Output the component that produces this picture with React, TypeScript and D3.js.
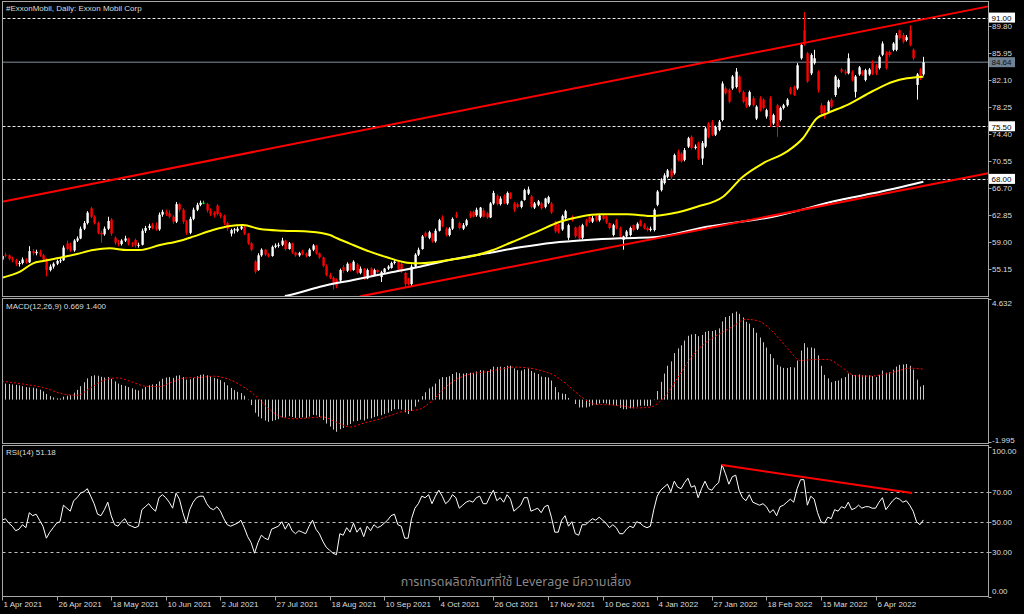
import React from 'react';
import * as d3 from 'd3';

const titleText = '#ExxonMobil, Daily:  Exxon Mobil Corp';
const macdTitle = 'MACD(12,26,9) 0.669 1.400';
const rsiTitle = 'RSI(14) 51.18';
const watermark = 'การเทรดผลิตภัณฑ์ที่ใช้ Leverage มีความเสี่ยง';

const xLabels = ['1 Apr 2021', '26 Apr 2021', '18 May 2021', '10 Jun 2021', '2 Jul 2021', '27 Jul 2021', '18 Aug 2021', '10 Sep 2021', '4 Oct 2021', '26 Oct 2021', '17 Nov 2021', '10 Dec 2021', '4 Jan 2022', '27 Jan 2022', '18 Feb 2022', '15 Mar 2022', '6 Apr 2022'];
const xLabelBars = [0, 16, 32, 48, 64, 80, 96, 112, 128, 144, 160, 176, 192, 208, 224, 240, 256];

const priceTicks = [55.15, 59.0, 62.85, 66.7, 70.55, 74.4, 78.25, 82.1, 85.95, 89.8];
const levelLines = [91.0, 75.5, 68.0];
const lastPrice = 84.64;
const macdTicks = [4.632, -1.995];
const rsiTicks = [100, 70, 50, 30, 0];
const rsiLevels = [70, 50, 30];

const opens = [
  56.5, 57.2, 57.1, 56.6, 56.4, 55.9, 56.0, 56.5, 56.1, 57.7,
  57.4, 57.6, 57.1, 56.5, 55.0, 55.5, 55.9, 56.3, 56.4, 58.8,
  58.4, 57.8, 59.2, 59.5, 60.9, 61.7, 63.8, 62.6, 61.7, 60.3,
  60.1, 60.9, 62.2, 59.6, 58.9, 58.7, 59.2, 59.5, 58.8, 59.3,
  58.5, 58.6, 60.6, 61.0, 61.5, 61.4, 60.8, 62.9, 63.3, 63.1,
  62.6, 61.9, 64.4, 63.6, 61.9, 60.3, 62.3, 63.6, 64.3, 64.6,
  64.4, 63.5, 63.2, 64.2, 63.0, 62.7, 61.7, 60.2, 60.7, 60.6,
  60.9, 61.2, 60.2, 58.8, 56.2, 55.0, 57.1, 57.9, 57.2, 57.0,
  58.3, 58.5, 58.6, 59.2, 58.0, 58.8, 57.5, 57.1, 57.7, 57.3,
  57.0, 57.9, 58.5, 57.4, 56.8, 55.6, 54.3, 53.9, 53.6, 53.5,
  55.4, 54.9, 55.9, 55.0, 55.8, 54.6, 55.2, 53.8, 55.2, 54.3,
  55.0, 54.0, 54.7, 55.2, 55.3, 56.0, 56.2, 55.9, 54.6, 53.7,
  53.0, 55.5, 57.2, 58.0, 60.3, 59.6, 60.2, 59.1, 60.6, 62.5,
  60.9, 60.0, 60.9, 62.9, 61.7, 60.9, 61.4, 63.1, 63.3, 62.8,
  62.6, 63.5, 63.1, 62.5, 64.5, 65.6, 64.4, 65.6, 64.5, 66.0,
  64.5, 64.4, 64.0, 65.0, 65.9, 65.5, 63.9, 64.3, 64.5, 64.0,
  64.6, 64.5, 61.9, 61.5, 60.8, 62.4, 59.6, 62.6, 61.1, 61.2,
  59.6, 62.1, 62.6, 61.9, 62.8, 62.1, 62.8, 62.6, 61.7, 60.0,
  62.1, 61.0, 59.3, 59.8, 60.0, 61.4, 60.9, 62.0, 61.5, 61.0,
  60.7, 60.7, 64.3, 66.4, 67.4, 68.3, 69.2, 68.8, 71.9, 71.6,
  70.7, 72.6, 74.0, 72.4, 73.1, 70.9, 72.6, 75.9, 76.15, 74.3,
  75.0, 76.4, 80.9, 80.7, 80.9, 81.1, 82.6, 80.4, 79.5, 78.5,
  79.5, 76.6, 79.5, 79.3, 76.9, 79.5, 75.9, 78.5, 76.4, 78.1,
  78.5, 80.9, 81.1, 80.9, 85.2, 89.2, 85.9, 83.05, 84.5, 83.3,
  78.5, 78.3, 77.6, 79.25, 79.96, 81.1, 83.6, 83.3, 83.05, 83.3,
  80.4, 82.9, 83.3, 82.1, 82.9, 84.5, 84.2, 83.8, 85.7, 86.0,
  86.1, 86.4, 86.4, 89.2, 88.5, 87.8, 89.2, 86.4, 81.4, 83.6,
  82.9,
];

const highs = [
  57.3, 57.5, 57.2, 56.9, 56.6, 56.3, 56.8, 56.7, 58.4, 58.0,
  57.9, 57.9, 57.3, 56.7, 55.8, 56.1, 56.5, 56.7, 58.5, 59.2,
  58.9, 59.4, 59.8, 61.2, 62.0, 63.4, 64.0, 62.8, 61.9, 60.6,
  61.2, 62.6, 62.4, 59.8, 59.3, 59.4, 59.9, 59.6, 59.0, 59.5,
  58.9, 60.9, 61.3, 61.6, 61.7, 61.8, 63.2, 63.6, 63.6, 63.5,
  62.8, 64.7, 64.6, 63.8, 62.1, 62.6, 63.9, 64.6, 64.9, 64.9,
  64.6, 63.8, 63.4, 64.4, 63.2, 62.9, 61.9, 60.9, 61.0, 61.2,
  61.5, 61.4, 60.3, 59.0, 56.4, 57.4, 58.1, 58.0, 57.4, 58.5,
  58.8, 58.9, 59.6, 59.3, 59.0, 58.9, 57.6, 57.6, 57.9, 57.5,
  58.1, 58.7, 58.6, 57.5, 56.9, 55.8, 54.6, 54.1, 53.8, 55.2,
  55.7, 56.1, 56.0, 56.4, 56.0, 55.5, 55.3, 55.2, 55.4, 55.2,
  55.1, 54.9, 55.3, 55.7, 56.2, 56.5, 56.3, 56.1, 54.7, 53.9,
  55.8, 57.4, 58.2, 60.0, 60.5, 60.6, 60.3, 60.9, 62.3, 62.8,
  61.1, 61.1, 62.5, 63.3, 61.9, 61.7, 62.3, 63.4, 63.5, 63.9,
  64.0, 63.8, 63.3, 64.7, 66.3, 65.8, 65.5, 65.8, 66.2, 66.1,
  64.7, 64.6, 64.9, 66.6, 66.9, 65.7, 64.7, 65.0, 64.7, 65.3,
  65.6, 64.7, 62.0, 61.6, 62.9, 63.6, 61.6, 62.8, 61.2, 61.4,
  61.6, 62.3, 62.8, 62.7, 63.0, 63.0, 63.0, 62.8, 61.8, 61.6,
  62.3, 61.2, 59.9, 60.7, 61.2, 61.5, 61.8, 62.2, 61.7, 61.2,
  61.2, 63.8, 66.4, 68.1, 68.8, 69.4, 69.5, 71.6, 72.2, 71.8,
  72.4, 74.0, 74.2, 72.9, 73.3, 73.4, 75.4, 76.1, 76.4, 75.6,
  76.4, 81.9, 81.2, 80.9, 82.8, 83.8, 82.8, 80.6, 79.7, 80.6,
  79.8, 78.5, 79.8, 79.5, 78.0, 79.8, 77.3, 78.7, 78.3, 78.7,
  79.5, 81.1, 81.3, 84.5, 87.4, 91.8, 86.1, 85.9, 86.4, 83.5,
  78.8, 78.5, 79.2, 79.5, 82.8, 82.3, 83.8, 83.6, 85.9, 83.5,
  82.8, 84.1, 83.5, 83.7, 83.8, 84.9, 84.4, 85.6, 87.6, 86.2,
  86.3, 87.5, 88.8, 89.3, 88.8, 88.5, 89.9, 86.6, 83.1, 83.8,
  85.4,
];

const lows = [
  56.3, 56.8, 56.4, 56.1, 55.6, 55.5, 55.8, 55.9, 56.0, 57.1,
  57.1, 56.9, 56.2, 54.1, 54.8, 55.2, 55.7, 56.0, 56.3, 57.8,
  57.6, 57.6, 59.0, 59.4, 60.7, 61.5, 62.4, 61.5, 60.1, 58.9,
  59.9, 60.7, 59.9, 58.6, 58.4, 58.5, 59.0, 58.5, 58.3, 58.2,
  58.2, 58.5, 60.3, 60.7, 60.8, 60.6, 60.6, 62.6, 62.7, 62.4,
  61.6, 61.7, 63.3, 61.6, 60.0, 60.1, 62.1, 63.4, 64.1, 64.4,
  63.2, 62.7, 62.5, 62.8, 62.4, 61.4, 60.6, 59.8, 60.2, 60.4,
  60.7, 60.0, 58.6, 57.7, 54.5, 54.9, 56.9, 57.0, 56.8, 56.9,
  58.1, 58.2, 58.4, 57.8, 57.9, 57.3, 56.9, 56.9, 57.1, 56.8,
  56.9, 57.7, 57.2, 56.6, 55.4, 54.1, 53.7, 52.2, 52.4, 53.3,
  54.6, 54.7, 54.8, 54.9, 54.4, 54.4, 53.6, 53.7, 54.1, 54.2,
  54.5, 53.3, 54.5, 55.0, 55.2, 55.8, 54.8, 54.6, 52.5, 52.8,
  52.7, 55.3, 57.0, 57.9, 59.6, 59.4, 58.9, 58.9, 60.5, 61.1,
  59.8, 59.8, 60.7, 62.4, 60.8, 60.7, 61.2, 62.4, 62.5, 62.6,
  62.4, 62.5, 62.3, 62.4, 64.3, 64.2, 64.2, 64.4, 64.3, 65.1,
  63.3, 63.8, 63.8, 64.9, 65.7, 63.8, 63.7, 64.1, 63.6, 63.8,
  64.4, 63.0, 60.3, 60.2, 60.6, 62.2, 59.3, 61.9, 59.6, 59.3,
  59.4, 61.2, 61.7, 61.7, 61.9, 61.9, 62.1, 61.6, 60.8, 59.8,
  60.8, 59.6, 57.9, 59.6, 59.8, 60.5, 60.7, 61.2, 60.8, 60.5,
  60.5, 60.5, 64.1, 66.2, 67.2, 68.1, 68.0, 68.6, 70.5, 70.3,
  70.5, 72.4, 72.2, 72.2, 70.7, 70.0, 72.4, 73.8, 74.1, 74.1,
  74.8, 76.2, 80.0, 78.8, 80.7, 80.9, 80.2, 78.8, 78.1, 78.3,
  78.3, 76.4, 77.6, 77.9, 76.6, 75.4, 75.7, 74.0, 76.2, 77.9,
  78.3, 80.0, 79.8, 80.7, 85.0, 87.0, 81.7, 82.8, 84.3, 80.3,
  77.1, 76.6, 77.4, 78.1, 79.7, 80.9, 83.1, 82.8, 82.9, 81.9,
  79.6, 82.7, 82.7, 81.9, 82.7, 82.8, 82.8, 83.6, 85.5, 83.6,
  85.4, 86.2, 86.2, 87.8, 87.3, 87.6, 86.9, 84.9, 79.3, 82.1,
  82.7,
];

const closes = [
  57.0, 57.1, 56.6, 56.4, 55.9, 56.0, 56.5, 56.1, 57.7, 57.4,
  57.6, 57.1, 56.5, 55.0, 55.5, 55.9, 56.3, 56.4, 58.2, 58.0,
  57.8, 59.2, 59.5, 60.9, 61.7, 63.2, 62.6, 61.7, 60.3, 60.1,
  60.9, 62.0, 60.2, 58.9, 58.7, 59.2, 59.5, 58.8, 58.7, 58.5,
  58.6, 60.6, 61.0, 61.3, 61.0, 60.8, 62.9, 63.3, 63.0, 62.6,
  61.9, 64.4, 63.6, 61.9, 60.3, 62.3, 63.6, 64.3, 64.6, 64.6,
  63.5, 63.0, 62.8, 63.0, 62.7, 61.7, 60.9, 60.7, 60.8, 60.9,
  61.2, 60.2, 58.8, 57.9, 54.8, 57.1, 57.9, 57.2, 57.0, 58.3,
  58.5, 58.6, 59.2, 58.0, 58.8, 57.5, 57.1, 57.4, 57.3, 57.0,
  57.9, 58.5, 57.4, 56.8, 55.6, 54.3, 53.9, 53.0, 52.7, 55.0,
  54.9, 55.9, 55.0, 56.2, 54.6, 55.2, 53.8, 55.0, 54.3, 55.0,
  54.7, 54.7, 55.2, 55.5, 56.0, 56.2, 55.0, 54.8, 53.0, 53.0,
  55.5, 57.2, 57.9, 59.8, 59.8, 60.4, 59.1, 60.6, 62.1, 61.3,
  60.0, 60.9, 62.3, 62.6, 61.0, 61.4, 62.1, 62.6, 62.6, 63.6,
  63.9, 62.6, 62.5, 64.5, 66.0, 64.4, 65.2, 64.5, 66.0, 65.3,
  63.6, 64.0, 64.8, 66.4, 66.5, 64.0, 64.5, 64.8, 63.8, 65.2,
  65.4, 63.2, 60.5, 60.4, 62.7, 63.4, 61.4, 62.1, 59.8, 59.5,
  61.4, 61.4, 61.9, 62.4, 62.1, 62.8, 62.3, 61.8, 61.0, 61.4,
  61.0, 59.8, 59.8, 60.5, 61.0, 60.7, 61.6, 61.3, 61.0, 60.7,
  60.9, 63.6, 66.2, 67.8, 68.5, 69.2, 68.3, 71.4, 70.7, 70.5,
  72.1, 73.8, 72.4, 72.6, 70.9, 73.1, 75.2, 74.0, 74.3, 75.4,
  76.15, 81.6, 80.2, 79.0, 82.6, 83.3, 80.4, 79.0, 78.3, 80.4,
  78.5, 78.3, 77.8, 78.1, 77.8, 76.4, 77.1, 75.4, 78.1, 78.5,
  79.3, 80.2, 79.96, 84.2, 87.1, 87.3, 81.9, 85.66, 85.2, 80.7,
  77.35, 76.9, 79.0, 78.3, 82.6, 82.1, 83.3, 83.05, 85.2, 82.1,
  82.6, 83.9, 82.9, 83.5, 83.6, 83.0, 83.05, 85.4, 87.3, 83.8,
  85.66, 87.3, 88.5, 88.05, 87.56, 88.2, 87.1, 85.2, 82.9, 82.3,
  84.64,
];

// moving averages: [bar, price]
const maYellow = [
  [0, 53.91], [5.3, 54.77], [9.1, 55.96], [12, 56.29], [17, 56.76], [22, 57.29], [26.7, 57.86],
  [31.6, 58.1], [36.6, 57.86], [40.4, 57.86], [46.3, 58.57], [52.2, 59.19], [56, 59.76],
  [61.8, 60.71], [66.8, 61.28], [70.6, 61.42], [75.6, 60.85], [82.3, 60.61], [90.3, 60.47],
  [96.1, 60.0], [98.2, 59.53], [102.9, 58.57], [107.8, 57.62], [112.8, 56.82], [118.7, 56.05],
  [122.5, 55.96], [132.2, 56.53], [138, 57.0], [143.9, 57.86], [149.7, 59.04], [156.8, 60.47],
  [163.5, 61.89], [169.4, 62.61], [175.2, 62.95], [183.2, 62.95], [190.8, 62.71], [196.6, 63.09],
  [203.7, 64.03], [211.3, 65.46], [217.1, 68.31], [223, 70.22], [230, 71.88], [234.7, 73.79],
  [238.8, 76.64], [241.8, 77.35], [247.6, 78.53], [255.2, 80.53], [261.1, 81.86], [265.2, 82.34],
  [270, 82.57],
];
const maWhite = [
  [82.9, 51.3], [84.4, 51.44], [93.2, 52.63], [102.9, 53.58], [112.8, 54.54], [122.5, 55.48],
  [132.2, 56.53], [142.1, 57.39], [151.8, 58.24], [161.5, 58.9], [171.4, 59.29], [181.1, 59.53],
  [190.8, 59.67], [206.6, 61.18], [225.9, 62.61], [245.5, 64.99], [255.2, 65.94], [270, 67.6],
];

// trend lines [bar, price]
const upperChannel = [[0, 64.75], [289, 92.6]];
const lowerChannel = [[105, 51.25], [289, 68.8]];
const rsiTrend = [[211, 87.8], [266.7, 69.1]];

const macdMain = [
  0.75, 0.74, 0.72, 0.70, 0.68, 0.66, 0.62, 0.58, 0.56, 0.55,
  0.52, 0.46, 0.38, 0.26, 0.16, 0.10, 0.06, 0.05, 0.14, 0.18,
  0.20, 0.32, 0.45, 0.62, 0.80, 0.98, 1.08, 1.12, 1.10, 1.05,
  1.02, 1.04, 0.96, 0.84, 0.74, 0.68, 0.64, 0.58, 0.52, 0.46,
  0.42, 0.50, 0.58, 0.66, 0.70, 0.72, 0.84, 0.96, 1.02, 1.04,
  1.00, 1.10, 1.12, 1.04, 0.92, 0.94, 1.00, 1.08, 1.14, 1.16,
  1.12, 1.06, 1.00, 0.96, 0.90, 0.80, 0.66, 0.54, 0.44, 0.36,
  0.30, 0.18, -0.02, -0.25, -0.60, -0.78, -0.86, -0.96, -1.02, -0.98,
  -0.94, -0.90, -0.82, -0.82, -0.76, -0.80, -0.84, -0.84, -0.82, -0.84,
  -0.78, -0.70, -0.72, -0.80, -0.94, -1.10, -1.24, -1.38, -1.48, -1.36,
  -1.30, -1.18, -1.12, -1.00, -0.98, -0.92, -0.96, -0.88, -0.86, -0.80,
  -0.76, -0.72, -0.66, -0.60, -0.52, -0.44, -0.44, -0.46, -0.58, -0.66,
  -0.52, -0.32, -0.10, 0.16, 0.34, 0.52, 0.60, 0.74, 0.94, 1.04,
  1.04, 1.08, 1.18, 1.26, 1.22, 1.20, 1.22, 1.24, 1.24, 1.30,
  1.36, 1.34, 1.32, 1.40, 1.52, 1.50, 1.52, 1.50, 1.56, 1.56,
  1.44, 1.36, 1.34, 1.40, 1.44, 1.32, 1.24, 1.18, 1.06, 1.04,
  1.02, 0.88, 0.58, 0.34, 0.28, 0.26, 0.08, 0.00, -0.20, -0.36,
  -0.36, -0.36, -0.32, -0.26, -0.24, -0.18, -0.16, -0.18, -0.24, -0.24,
  -0.28, -0.38, -0.44, -0.44, -0.40, -0.40, -0.32, -0.28, -0.28, -0.30,
  -0.28, -0.02, 0.40, 0.82, 1.20, 1.56, 1.76, 2.14, 2.36, 2.50,
  2.72, 2.94, 3.00, 3.02, 2.92, 2.98, 3.12, 3.16, 3.16, 3.20,
  3.28, 3.60, 3.80, 3.85, 3.98, 4.05, 3.95, 3.78, 3.58, 3.50,
  3.30, 3.08, 2.86, 2.64, 2.40, 2.10, 1.90, 1.60, 1.52, 1.46,
  1.46, 1.50, 1.48, 1.80, 2.26, 2.60, 2.40, 2.40, 2.36, 2.04,
  1.56, 1.14, 0.98, 0.80, 0.86, 0.88, 0.98, 1.04, 1.20, 1.14,
  1.14, 1.16, 1.12, 1.12, 1.12, 1.08, 1.04, 1.14, 1.34, 1.24,
  1.26, 1.38, 1.52, 1.60, 1.62, 1.64, 1.56, 1.38, 0.92, 0.60,
  0.669,
];

const macdSignal = [
  [0, 0.85], [6, 0.72], [12, 0.56], [18, 0.26], [22, 0.2], [26, 0.55], [30, 0.9], [34, 1.0],
  [38, 0.82], [42, 0.62], [46, 0.6], [50, 0.82], [54, 1.0], [58, 1.02], [62, 1.08], [66, 0.96],
  [70, 0.66], [74, 0.22], [78, -0.4], [82, -0.8], [86, -0.88], [90, -0.84], [94, -0.8], [98, -1.04],
  [102, -1.26], [106, -1.08], [110, -0.92], [114, -0.72], [118, -0.52], [122, -0.46], [126, -0.06],
  [130, 0.58], [134, 1.0], [138, 1.2], [142, 1.28], [146, 1.4], [150, 1.5], [154, 1.46], [158, 1.34],
  [162, 1.1], [166, 0.64], [170, 0.1], [174, -0.22], [178, -0.24], [182, -0.3], [186, -0.38],
  [190, -0.34], [194, 0.1], [198, 1.0], [202, 1.95], [206, 2.6], [210, 3.0], [214, 3.35], [218, 3.7],
  [222, 3.6], [226, 3.1], [230, 2.4], [234, 1.8], [238, 1.85], [242, 1.85], [246, 1.5], [250, 1.1],
  [254, 1.08], [258, 1.15], [262, 1.3], [266, 1.45], [270, 1.4],
];

const rsiValues = [
  51, 52, 49, 47, 44, 45, 48, 46, 56, 54,
  55, 51, 47, 39, 43, 46, 49, 50, 61, 59,
  57, 64, 66, 69, 70, 72, 67, 62, 55, 54,
  58, 63, 54, 48, 47, 50, 52, 48, 47, 46,
  47, 58, 60, 62, 59, 57, 66, 68, 66, 63,
  59, 69, 65, 56, 49, 58, 63, 66, 67, 67,
  62, 59, 58, 60, 57, 52, 48, 47, 48, 49,
  51, 46, 40, 36, 29, 36, 41, 39, 38, 45,
  46, 47, 50, 45, 49, 44, 42, 44, 43, 42,
  47, 51, 45, 42, 37, 33, 31, 29, 28, 42,
  41, 46, 43, 49, 43, 46, 40, 47, 44, 48,
  46, 47, 49, 51, 54, 55, 48, 47, 39, 39,
  52, 59, 62, 67, 66, 68, 62, 67, 71, 67,
  62, 64, 68, 66, 59, 61, 63, 64, 63, 66,
  67, 62, 62, 67, 71, 64, 66, 63, 68, 65,
  57, 59, 61, 66, 66, 57, 58, 59, 56, 60,
  61, 53, 43, 43, 51, 54, 47, 50, 42, 41,
  48, 48, 50, 52, 51, 53, 51, 49, 46, 48,
  46, 42, 42, 45, 47, 46, 50, 49, 47, 46,
  47, 58, 67, 71, 73, 75, 70, 77, 73, 72,
  76, 79, 73, 74, 66, 72, 77, 72, 71, 74,
  76, 88, 82, 75, 80, 81, 71, 66, 64, 68,
  63, 62, 61, 62, 60, 56, 58, 54, 60, 61,
  63, 65, 63, 72, 78, 78, 61, 67, 65, 56,
  50, 49, 53, 52, 58, 57, 60, 59, 63, 58,
  59, 61, 59, 60, 60, 59, 59, 63, 66, 58,
  61, 64, 66, 65, 63, 64, 61, 57, 50, 48,
  51.18,
];

const FONT = 'Liberation Sans, Arial, sans-serif';
const LEFT = 2.5;
const RIGHT = 988.5;
const MAIN = { top: 1.5, bottom: 296.5 };
const MACDP = { top: 298.5, bottom: 443.5 };
const RSIP = { top: 445.5, bottom: 596.5 };
const BAR0 = 2;
const STEP = 3.4125;
const LABEL_COLOR = '#dcdcdc';

export default function App() {
  const n = closes.length;
  const x = d3.scaleLinear().domain([0, n - 1]).range([BAR0, BAR0 + (n - 1) * STEP]);
  const yP = d3.scaleLinear().domain([59, 89.8]).range([242, 242 - 30.8 * 7.013]);
  const yM = d3.scaleLinear().domain([-1.995, 4.632]).range([443, 299]);
  const yR = d3.scaleLinear().domain([0, 100]).range([596.7, 446.7]);

  const priceLine = d3
    .line<number[]>()
    .x((d) => x(d[0]))
    .y((d) => yP(d[1]))
    .curve(d3.curveMonotoneX);
  const straightPrice = d3
    .line<number[]>()
    .x((d) => x(d[0]))
    .y((d) => yP(d[1]));
  const sigLine = d3
    .line<number[]>()
    .x((d) => x(d[0]))
    .y((d) => yM(d[1]))
    .curve(d3.curveMonotoneX);
  const rsiLine = d3
    .line<number>()
    .x((_, i) => x(i))
    .y((d) => yR(d));
  const rsiTrendLine = d3
    .line<number[]>()
    .x((d) => x(d[0]))
    .y((d) => yR(d[1]));

  const boxLabel = (v: number, key: string, fill: string, color: string) => (
    <g key={key}>
      <rect x={989} y={yP(v) - 5} width={26} height={10} fill={fill} />
      <text x={991.5} y={yP(v) + 3.3} fontSize={8} fontFamily={FONT} fill={color}>
        {v.toFixed(2)}
      </text>
    </g>
  );

  return (
    <svg
      width={1024}
      height={614}
      style={{ position: 'absolute', left: 0, top: 0, background: '#000', display: 'block' }}
    >
      <defs>
        <clipPath id="clipMain">
          <rect x={LEFT} y={MAIN.top} width={RIGHT - LEFT} height={MAIN.bottom - MAIN.top} />
        </clipPath>
        <clipPath id="clipMacd">
          <rect x={LEFT} y={MACDP.top} width={RIGHT - LEFT} height={MACDP.bottom - MACDP.top} />
        </clipPath>
        <clipPath id="clipRsi">
          <rect x={LEFT} y={RSIP.top} width={RIGHT - LEFT} height={RSIP.bottom - RSIP.top} />
        </clipPath>
      </defs>
      <rect x={0} y={0} width={1024} height={614} fill="#000" />

      {/* ===== main panel ===== */}
      <g clipPath="url(#clipMain)">
        <line x1={LEFT} x2={RIGHT} y1={yP(lastPrice)} y2={yP(lastPrice)} stroke="#56606b" strokeWidth={1.5} />
        {levelLines.map((v) => (
          <line key={v} x1={LEFT} x2={RIGHT} y1={Math.round(yP(v)) + 0.5} y2={Math.round(yP(v)) + 0.5} stroke="#e8e8e8" strokeDasharray="3,2" strokeWidth={1} />
        ))}
        {closes.map((c, i) => {
          const o = opens[i];
          const cx = Math.round(x(i));
          const col = c > o ? '#ffffff' : c < o ? '#ff0000' : '#00ff00';
          const yt = yP(Math.max(o, c));
          const yb = yP(Math.min(o, c));
          return (
            <g key={i}>
              <line x1={cx + 0.5} x2={cx + 0.5} y1={yP(highs[i])} y2={yP(lows[i])} stroke={col} strokeWidth={1} />
              <rect x={cx - 0.6} y={yt} width={2.4} height={Math.max(1, yb - yt)} fill={col} />
            </g>
          );
        })}
        <path d={priceLine(maWhite) || ''} fill="none" stroke="#ffffff" strokeWidth={2} />
        <path d={priceLine(maYellow) || ''} fill="none" stroke="#ffff00" strokeWidth={2} />
        <path d={straightPrice(upperChannel) || ''} fill="none" stroke="#ff0000" strokeWidth={2} />
        <path d={straightPrice(lowerChannel) || ''} fill="none" stroke="#ff0000" strokeWidth={2} />
      </g>
      <text x={6} y={11} fontSize={8} fontFamily={FONT} fill={LABEL_COLOR}>
        {titleText}
      </text>

      {/* ===== MACD panel ===== */}
      <g clipPath="url(#clipMacd)">
        {macdMain.map((v, i) => {
          const cx = Math.round(x(i)) + 0.5;
          return <line key={i} x1={cx} x2={cx} y1={yM(0)} y2={yM(v)} stroke="#c8c8c8" strokeWidth={1} />;
        })}
        <path d={sigLine(macdSignal) || ''} fill="none" stroke="#ff0000" strokeWidth={1} strokeDasharray="2,2" />
      </g>
      <text x={6} y={309} fontSize={8} fontFamily={FONT} fill={LABEL_COLOR}>
        {macdTitle}
      </text>

      {/* ===== RSI panel ===== */}
      <g clipPath="url(#clipRsi)">
        {rsiLevels.map((v) => (
          <line key={v} x1={LEFT} x2={RIGHT} y1={Math.round(yR(v)) + 0.5} y2={Math.round(yR(v)) + 0.5} stroke="#c0c0c0" strokeDasharray="3,3" strokeWidth={1} />
        ))}
        <path d={rsiLine(rsiValues) || ''} fill="none" stroke="#ffffff" strokeWidth={1} />
        <path d={rsiTrendLine(rsiTrend) || ''} fill="none" stroke="#ff0000" strokeWidth={2} />
      </g>
      <text x={6} y={455} fontSize={8} fontFamily={FONT} fill={LABEL_COLOR}>
        {rsiTitle}
      </text>

      {/* panel frames */}
      {[MAIN, MACDP, RSIP].map((p, i) => (
        <rect key={i} x={LEFT} y={p.top} width={RIGHT - LEFT} height={p.bottom - p.top} fill="none" stroke="#a8a8a8" strokeWidth={1} />
      ))}

      {/* right axis: main */}
      {priceTicks.map((v) => (
        <g key={v}>
          <line x1={RIGHT} x2={RIGHT + 3} y1={Math.round(yP(v)) + 0.5} y2={Math.round(yP(v)) + 0.5} stroke="#a8a8a8" />
          <text x={992} y={yP(v) + 3} fontSize={8} fontFamily={FONT} fill={LABEL_COLOR}>
            {v.toFixed(2)}
          </text>
        </g>
      ))}
      {levelLines.map((v) => boxLabel(v, 'lv' + v, '#ffffff', '#000000'))}
      {boxLabel(lastPrice, 'last', '#6f8193', '#101010')}

      {/* right axis: MACD */}
      {macdTicks.map((v, i) => (
        <g key={v}>
          <line x1={RIGHT} x2={RIGHT + 3} y1={i === 0 ? 299.5 : 442.5} y2={i === 0 ? 299.5 : 442.5} stroke="#a8a8a8" />
          <text x={992} y={i === 0 ? 306 : 443} fontSize={8} fontFamily={FONT} fill={LABEL_COLOR}>
            {v.toFixed(3)}
          </text>
        </g>
      ))}

      {/* right axis: RSI */}
      {rsiTicks.map((v) => {
        const yy = v === 100 ? 451 : v === 0 ? 591 : yR(v);
        return (
          <g key={v}>
            <line x1={RIGHT} x2={RIGHT + 3} y1={Math.round(yR(v)) + 0.5} y2={Math.round(yR(v)) + 0.5} stroke="#a8a8a8" />
            <text x={992} y={yy + 3} fontSize={8} fontFamily={FONT} fill={LABEL_COLOR}>
              {v.toFixed(2)}
            </text>
          </g>
        );
      })}

      {/* x axis */}
      {xLabelBars.map((b, i) => {
        const tx = Math.round(x(b)) + 0.5;
        return (
          <g key={b}>
            <line x1={tx} x2={tx} y1={596.5} y2={600.5} stroke="#a8a8a8" />
            <text x={tx + 1} y={607} fontSize={8} fontFamily={FONT} fill={LABEL_COLOR}>
              {xLabels[i]}
            </text>
          </g>
        );
      })}

      {/* watermark */}
      <text
        x={516}
        y={586}
        textAnchor="middle"
        fontSize={12.5}
        fontFamily="'Noto Sans Thai', 'Noto Sans', 'DejaVu Sans', sans-serif"
        fill="#9a9a9a"
        fillOpacity={0.9}
      >
        {watermark}
      </text>
    </svg>
  );
}
